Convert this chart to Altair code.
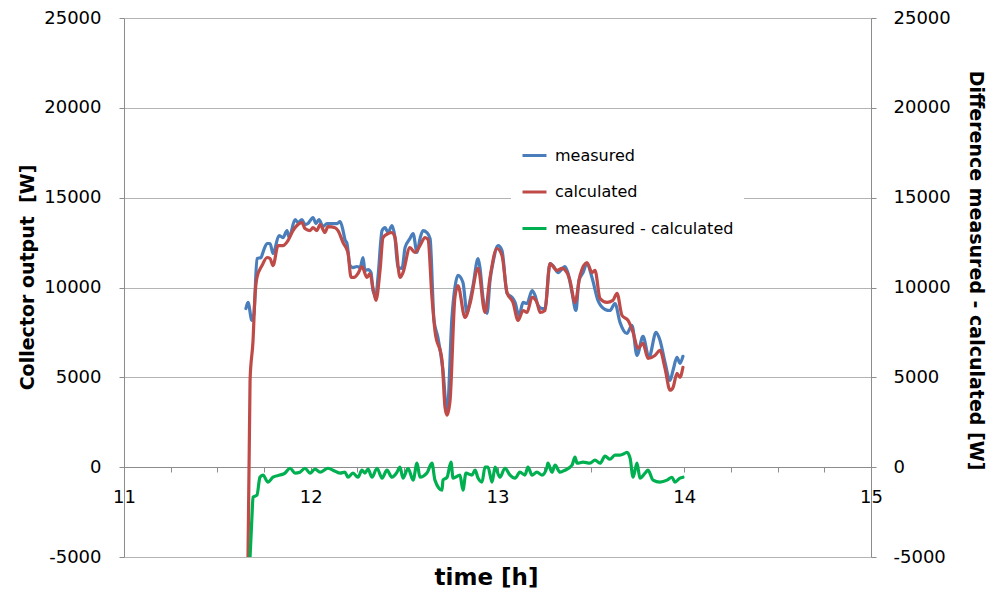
import altair as alt
import pandas as pd

# ---- data ----
t_meas = [11.653, 11.664, 11.685, 11.696, 11.712, 11.734, 11.744, 11.766, 11.782, 11.798, 11.830, 11.851, 11.873, 11.884, 11.916, 11.932, 11.953, 11.969, 11.985, 12.012, 12.028, 12.044, 12.066, 12.087, 12.119, 12.141, 12.157, 12.173, 12.183, 12.194, 12.210, 12.226, 12.248, 12.264, 12.280, 12.290, 12.307, 12.323, 12.333, 12.349, 12.360, 12.382, 12.398, 12.414, 12.435, 12.451, 12.467, 12.489, 12.505, 12.531, 12.548, 12.569, 12.585, 12.601, 12.622, 12.639, 12.660, 12.681, 12.708, 12.730, 12.756, 12.772, 12.788, 12.815, 12.837, 12.853, 12.869, 12.896, 12.906, 12.922, 12.944, 12.960, 12.976, 13.003, 13.024, 13.051, 13.078, 13.094, 13.115, 13.137, 13.158, 13.185, 13.201, 13.217, 13.238, 13.254, 13.281, 13.297, 13.324, 13.361, 13.378, 13.399, 13.420, 13.436, 13.458, 13.479, 13.506, 13.538, 13.576, 13.602, 13.629, 13.656, 13.693, 13.720, 13.747, 13.779, 13.811, 13.849, 13.870, 13.897, 13.924, 13.940, 13.961, 13.977, 13.993]
v_meas = [8830, 9170, 8170, 8560, 11610, 11670, 11950, 12450, 12450, 11890, 12890, 12780, 13170, 12780, 13780, 13610, 13780, 13500, 13560, 13890, 13560, 13780, 13390, 13560, 13560, 13560, 13670, 13170, 12670, 12450, 11220, 11110, 11170, 11110, 11670, 10950, 11000, 10830, 9830, 9560, 10560, 13170, 13330, 13060, 13450, 12780, 11110, 11060, 12220, 12720, 13000, 11950, 12720, 13170, 13060, 12720, 8170, 7220, 5390, 3000, 8330, 10000, 10670, 10280, 8560, 9280, 10110, 11610, 11110, 9450, 8560, 10390, 11390, 12330, 12060, 9670, 9450, 9170, 8440, 9170, 9110, 9830, 9560, 9000, 8830, 8830, 11330, 11220, 10830, 11170, 10780, 9720, 8720, 10390, 10830, 11330, 10560, 9280, 8780, 8720, 9110, 8060, 7440, 7890, 6220, 7280, 6110, 7500, 7060, 5830, 4830, 5390, 6110, 5780, 6170]

t_calc = [11.664, 11.675, 11.691, 11.701, 11.712, 11.739, 11.766, 11.782, 11.798, 11.825, 11.851, 11.878, 11.905, 11.926, 11.953, 11.969, 11.996, 12.012, 12.033, 12.050, 12.076, 12.092, 12.130, 12.146, 12.173, 12.199, 12.216, 12.232, 12.253, 12.274, 12.301, 12.317, 12.333, 12.349, 12.371, 12.387, 12.414, 12.435, 12.451, 12.478, 12.494, 12.531, 12.558, 12.585, 12.612, 12.628, 12.649, 12.665, 12.703, 12.719, 12.730, 12.746, 12.772, 12.788, 12.826, 12.853, 12.896, 12.933, 12.960, 12.997, 13.024, 13.051, 13.083, 13.110, 13.137, 13.158, 13.185, 13.211, 13.228, 13.254, 13.281, 13.319, 13.345, 13.372, 13.388, 13.415, 13.442, 13.479, 13.506, 13.522, 13.549, 13.586, 13.618, 13.640, 13.667, 13.699, 13.726, 13.752, 13.779, 13.806, 13.843, 13.870, 13.897, 13.924, 13.940, 13.961, 13.977, 13.993]
v_calc = [-5000, 4830, 7060, 9450, 10560, 11220, 11670, 11610, 11220, 12330, 12330, 12610, 13170, 13450, 13610, 13280, 13170, 13330, 13170, 13500, 13060, 13390, 13330, 13170, 12500, 11950, 10560, 10560, 10780, 11170, 10560, 10780, 10000, 9280, 10950, 12780, 13000, 13060, 12780, 10560, 10830, 12220, 11950, 12330, 12780, 12670, 9450, 7610, 5940, 3330, 2890, 3720, 9450, 10110, 8330, 9110, 11060, 8610, 10560, 12170, 11780, 9720, 9170, 8170, 8720, 8610, 9450, 9170, 8610, 8720, 11330, 10950, 11060, 10830, 10390, 9170, 10670, 11390, 10830, 10950, 9390, 9170, 9280, 9670, 8440, 8170, 7500, 6610, 6890, 6060, 6220, 6500, 5500, 4280, 4440, 5220, 5000, 5560]

t_diff = [11.675, 11.685, 11.691, 11.712, 11.728, 11.744, 11.771, 11.798, 11.835, 11.862, 11.889, 11.916, 11.942, 11.969, 11.996, 12.023, 12.050, 12.092, 12.119, 12.157, 12.183, 12.199, 12.226, 12.253, 12.274, 12.290, 12.307, 12.328, 12.355, 12.382, 12.408, 12.435, 12.462, 12.478, 12.494, 12.521, 12.548, 12.569, 12.585, 12.622, 12.649, 12.665, 12.703, 12.708, 12.730, 12.751, 12.762, 12.799, 12.815, 12.831, 12.863, 12.880, 12.896, 12.917, 12.933, 12.949, 12.971, 12.987, 13.013, 13.040, 13.067, 13.094, 13.120, 13.147, 13.163, 13.185, 13.211, 13.238, 13.265, 13.270, 13.292, 13.308, 13.335, 13.361, 13.399, 13.415, 13.426, 13.458, 13.495, 13.522, 13.549, 13.576, 13.602, 13.629, 13.656, 13.683, 13.693, 13.710, 13.726, 13.747, 13.763, 13.790, 13.806, 13.833, 13.870, 13.908, 13.934, 13.950, 13.977, 13.993]
v_diff = [-5000, -2780, -1670, -1560, -560, -440, -830, -560, -440, -330, -60, -330, -280, -60, -330, -110, -280, -60, -170, -330, -280, -560, -330, -560, -170, -330, -110, -560, -60, -610, -170, -560, -280, 0, -610, -60, -720, 220, -560, -330, 220, -720, -1280, -720, -560, 280, -610, -440, -1280, -330, -440, -170, -610, -830, 0, 0, -830, 0, -560, -60, -440, -610, -280, -440, 0, -440, -280, -440, 0, 220, -280, 110, -280, -170, 110, 560, 220, 280, 220, 390, 220, 610, 440, 670, 670, 780, 830, 500, -560, 220, -610, -330, -170, -720, -830, -720, -560, -830, -610, -560]

series_names = ["measured", "calculated", "measured - calculated"]
series_colors = ["#4A7EBB", "#BE4B48", "#00B050"]
x_ticks = [11, 11.25, 11.5, 11.75, 12, 12.25, 12.5, 12.75, 13, 13.25, 13.5, 13.75, 14, 14.25, 14.5, 14.75, 15]
y_ticks = [-5000, 0, 5000, 10000, 15000, 20000, 25000]

assert len(t_meas) == len(v_meas)
assert len(t_calc) == len(v_calc)
assert len(t_diff) == len(v_diff)

rows = []
for name, ts, vs in zip(series_names, [t_meas, t_calc, t_diff], [v_meas, v_calc, v_diff]):
    for t, v in zip(ts, vs):
        rows.append({"time": t, "value": v, "series": name})
df = pd.DataFrame(rows)
df_diff = df[df["series"] == "measured - calculated"]

FONT = "DejaVu Sans"
GRID = "#b4b4b4"
AXIS = "#8c8c8c"

x_enc = alt.X(
    "time:Q",
    scale=alt.Scale(domain=[11, 15], nice=False, zero=False),
    axis=alt.Axis(
        values=x_ticks,
        labelExpr="datum.value % 1 == 0 ? '' + datum.value : ''",
        offset=-90,
        grid=False,
        domainColor=AXIS,
        tickColor=AXIS,
        tickSize=5,
        labelFont=FONT,
        labelFontSize=18,
        labelColor="#000000",
        labelPadding=25,
        labelBaseline="middle",
        labelFlush=False,
        labelOverlap=False,
        title="time [h]",
        titleFont=FONT,
        titleFontSize=23,
        titleFontWeight="bold",
        titleColor="#000000",
        titleX=362,
        titleAlign="center",
        titleY=110,
        titleBaseline="middle",
    ),
)

y_scale = alt.Scale(domain=[-5000, 25000], nice=False, zero=False)

lines = alt.Chart(df).mark_line(
    strokeWidth=3.2, clip=True, interpolate="monotone", strokeJoin="round", strokeCap="round"
).encode(
    x=x_enc,
    y=alt.Y(
        "value:Q",
        scale=y_scale,
        axis=alt.Axis(
            values=y_ticks,
            labelExpr="'' + datum.value",
            grid=True,
            gridColor=GRID,
            gridWidth=1,
            domainColor=AXIS,
            tickColor=AXIS,
            tickSize=5,
            labelFont=FONT,
            labelFontSize=18,
            labelColor="#000000",
            labelPadding=18,
            title="Collector output\u00a0\u00a0[W]",
            titleFont=FONT,
            titleFontSize=19,
            titleFontWeight="bold",
            titleColor="#000000",
            titleX=-97,
            titleY=259,
            titleBaseline="middle",
        ),
    ),
    color=alt.Color(
        "series:N",
        scale=alt.Scale(domain=series_names, range=series_colors),
        legend=alt.Legend(
            orient="none",
            legendX=387,
            legendY=114,
            title=None,
            symbolType="stroke",
            symbolSize=576,
            symbolStrokeWidth=3,
            labelFont=FONT,
            labelFontSize=16,
            labelColor="#000000",
            labelOffset=7,
            labelLimit=400,
            rowPadding=14.5,
            fillColor="white",
            padding=10,
        ),
    ),
)

right_axis = alt.Chart(df_diff).mark_line(strokeOpacity=0, clip=True).encode(
    x=alt.X("time:Q", scale=alt.Scale(domain=[11, 15], nice=False, zero=False)),
    y=alt.Y(
        "value:Q",
        scale=y_scale,
        axis=alt.Axis(
            orient="right",
            values=y_ticks,
            labelExpr="'' + datum.value",
            grid=False,
            domainColor=AXIS,
            tickColor=AXIS,
            tickSize=5,
            labelFont=FONT,
            labelFontSize=18,
            labelColor="#000000",
            labelPadding=17,
            title="Difference measured - calculated [W]",
            titleFont=FONT,
            titleFontSize=19,
            titleFontWeight="bold",
            titleColor="#000000",
            titleX=104,
            titleY=252,
            titleBaseline="middle",
        ),
    ),
)

chart = (
    alt.layer(right_axis, lines)
    .resolve_scale(y="independent")
    .properties(
        width=747,
        height=539,
        autosize=alt.AutoSizeParams(type="none"),
        padding={"left": 124, "top": 18, "right": 118, "bottom": 33},
        background="white",
    )
    .configure_view(strokeWidth=0)
)

chart.save("out.html", embed_options={"renderer": "svg", "actions": False})
